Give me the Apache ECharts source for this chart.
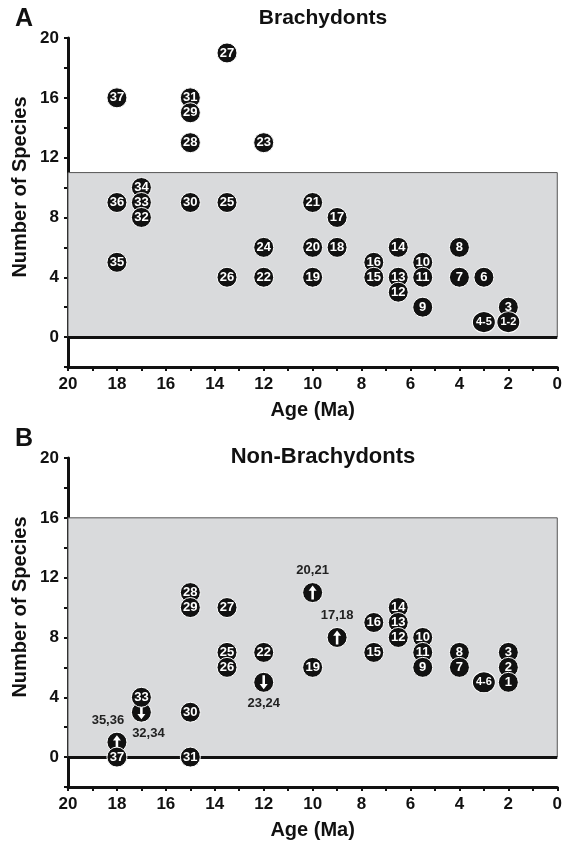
<!DOCTYPE html>
<html>
<head>
<meta charset="utf-8">
<script src="https://cdn.jsdelivr.net/npm/echarts@6/dist/echarts.min.js"></script>
<style>
  html, body { margin: 0; padding: 0; background: #fff; }
  #chart { width: 565px; height: 845px; }
</style>
</head>
<body>
<div id="chart"></div>
<script>
// Panel A: Brachydonts (label, age in Ma, number of species)
const brachyLabels = ['37','31','29','28','27','23','34','36','33','32','30','25','35','24','26','22','21','17','20','18','19','14','16','15','13','12','10','11','9','8','7','6','3','4-5','1-2'];
const brachyAge    = [18, 15, 15, 15, 13.5, 12, 17, 18, 17, 17, 15, 13.5, 18, 12, 13.5, 12, 10, 9, 10, 9, 10, 6.5, 7.5, 7.5, 6.5, 6.5, 5.5, 5.5, 5.5, 4, 4, 3, 2, 3, 2];
const brachyCount  = [16, 16, 15, 13, 19, 13, 10, 9, 9, 8, 9, 9, 5, 6, 4, 4, 9, 8, 6, 6, 4, 6, 5, 4, 4, 3, 5, 4, 2, 6, 4, 4, 2, 1, 1];
const brachyBand   = [0, 11];

// Panel B: Non-Brachydonts
const nonBrachyLabels = ['28','29','27','25','26','22','33','30','37','31','19','16','15','14','13','12','10','11','9','8','7','4-6','3','2','1'];
const nonBrachyAge    = [15, 15, 13.5, 13.5, 13.5, 12, 17, 15, 18, 15, 10, 7.5, 7.5, 6.5, 6.5, 6.5, 5.5, 5.5, 5.5, 4, 4, 3, 2, 2, 2];
const nonBrachyCount  = [11, 10, 10, 7, 6, 7, 4, 3, 0, 0, 6, 9, 7, 10, 9, 8, 8, 7, 6, 7, 6, 5, 7, 6, 5];
const nonBrachyBand   = [0, 16];

// arrow points in panel B (grouped sites)
const arrowLabels = ['35,36', '32,34', '23,24', '20,21', '17,18'];
const arrowAge    = [18, 17, 12, 10, 9];
const arrowCount  = [1, 3, 5, 11, 8];
const arrowDir    = ['up', 'down', 'down', 'up', 'up'];

const ageRange   = [0, 20];
const countRange = [-2, 20];

const FONT = 'Liberation Sans, Arial, Helvetica, sans-serif';
const ARROW = 'path://M5,0 L10,6 L6.6,6 L6.6,16 L3.4,16 L3.4,6 L0,6 Z';

var myChart = echarts.init(document.getElementById('chart'));

function numbered(labels, ages, counts) {
  return labels.map(function (lab, i) {
    var wide = lab.length > 2;
    return {
      value: [ages[i], counts[i]],
      symbolSize: wide ? [23, 21] : 20,
      label: { formatter: lab, fontSize: wide ? 11 : 13 }
    };
  });
}

function xAxisOf(idx) {
  return {
    gridIndex: idx, type: 'value', inverse: true,
    min: ageRange[0], max: ageRange[1], interval: 2,
    name: 'Age (Ma)', nameLocation: 'middle', nameGap: 33,
    nameTextStyle: { fontFamily: FONT, fontWeight: 'bold', fontSize: 20, color: '#111' },
    axisLine: { onZero: false, lineStyle: { color: '#111', width: 3 } },
    axisTick: { length: 4, lineStyle: { color: '#111', width: 2 } },
    minorTick: { show: true, splitNumber: 2, length: 4, lineStyle: { color: '#111', width: 2 } },
    axisLabel: { fontFamily: FONT, fontWeight: 'bold', fontSize: 17, color: '#111', margin: 9 },
    splitLine: { show: false }
  };
}

function yAxisOf(idx) {
  return {
    gridIndex: idx, type: 'value', position: 'left',
    min: countRange[0], max: countRange[1], interval: 2,
    axisLine: { onZero: false, lineStyle: { color: '#111', width: 3 } },
    axisTick: { length: 4, lineStyle: { color: '#111', width: 2 } },
    axisLabel: {
      fontFamily: FONT, fontWeight: 'bold', fontSize: 17, color: '#111', margin: 9,
      formatter: function (v) { return (v >= 0 && v % 4 === 0) ? v : ''; }
    },
    splitLine: { show: false }
  };
}

function bandSeries(idx, band) {
  return {
    type: 'scatter', xAxisIndex: idx, yAxisIndex: idx, data: [], z: 1, silent: true,
    markArea: {
      silent: true, z: 1,
      itemStyle: { color: '#d9dadc', borderColor: '#555', borderWidth: 1 },
      data: [[{ xAxis: ageRange[1], yAxis: band[0] }, { xAxis: ageRange[0], yAxis: band[1] }]]
    },
    markLine: {
      silent: true, symbol: 'none', z: 2,
      label: { show: false },
      lineStyle: { color: '#111', width: 3, type: 'solid' },
      data: [{ yAxis: 0 }]
    }
  };
}

var pointStyle = {
  type: 'scatter', symbol: 'circle', z: 4,
  itemStyle: { color: '#111', borderColor: '#fff', borderWidth: 1, opacity: 1 },
  label: { show: true, position: 'inside', color: '#fff', fontWeight: 'bold', fontFamily: FONT }
};

var arrowCircles = arrowLabels.map(function (lab, i) {
  var up = arrowDir[i] === 'up';
  var offs = { '35,36': [-9, 0], '32,34': [7, 0] };
  return {
    value: [arrowAge[i], arrowCount[i]],
    label: {
      show: true, formatter: lab, position: up ? 'top' : 'bottom', distance: up ? 5 : 4,
      offset: offs[lab] || [0, 0],
      color: '#222', fontWeight: 'bold', fontSize: 13, fontFamily: FONT
    }
  };
});
var arrowGlyphs = arrowLabels.map(function (lab, i) {
  return { value: [arrowAge[i], arrowCount[i]], symbolRotate: arrowDir[i] === 'up' ? 0 : 180 };
});

var option = {
  backgroundColor: '#fff',
  animation: false,
  grid: [
    { left: 68, right: 6, top: 38, bottom: 478 },
    { left: 68, right: 6, top: 458, bottom: 58 }
  ],
  xAxis: [xAxisOf(0), xAxisOf(1)],
  yAxis: [yAxisOf(0), yAxisOf(1)],
  graphic: [
    { type: 'text', left: 15, top: 7, style: { text: 'A', font: 'bold 25px ' + FONT, fill: '#111' } },
    { type: 'text', left: 15, top: 427, style: { text: 'B', font: 'bold 25px ' + FONT, fill: '#111' } },
    { type: 'text', x: 323, y: 18, style: { text: 'Brachydonts', font: 'bold 21px ' + FONT, fill: '#111', align: 'center', verticalAlign: 'middle' } },
    { type: 'text', x: 323, y: 457, style: { text: 'Non-Brachydonts', font: 'bold 22px ' + FONT, fill: '#111', align: 'center', verticalAlign: 'middle' } },
    { type: 'text', x: 20, y: 187, rotation: Math.PI / 2, style: { text: 'Number of Species', font: 'bold 20px ' + FONT, fill: '#111', align: 'center', verticalAlign: 'middle' } },
    { type: 'text', x: 20, y: 607, rotation: Math.PI / 2, style: { text: 'Number of Species', font: 'bold 20px ' + FONT, fill: '#111', align: 'center', verticalAlign: 'middle' } }
  ],
  series: [
    bandSeries(0, brachyBand),
    bandSeries(1, nonBrachyBand),
    Object.assign({}, pointStyle, { xAxisIndex: 0, yAxisIndex: 0, data: numbered(brachyLabels, brachyAge, brachyCount) }),
    {
      type: 'scatter', xAxisIndex: 1, yAxisIndex: 1, symbol: 'circle', symbolSize: 20, z: 3,
      itemStyle: { color: '#111', borderColor: '#fff', borderWidth: 1, opacity: 1 },
      data: arrowCircles
    },
    {
      type: 'scatter', xAxisIndex: 1, yAxisIndex: 1, symbol: ARROW, symbolSize: [8, 14], z: 3.5,
      itemStyle: { color: '#fff', opacity: 1 },
      data: arrowGlyphs
    },
    Object.assign({}, pointStyle, { xAxisIndex: 1, yAxisIndex: 1, data: numbered(nonBrachyLabels, nonBrachyAge, nonBrachyCount) })
  ]
};

myChart.setOption(option);
</script>
</body>
</html>
